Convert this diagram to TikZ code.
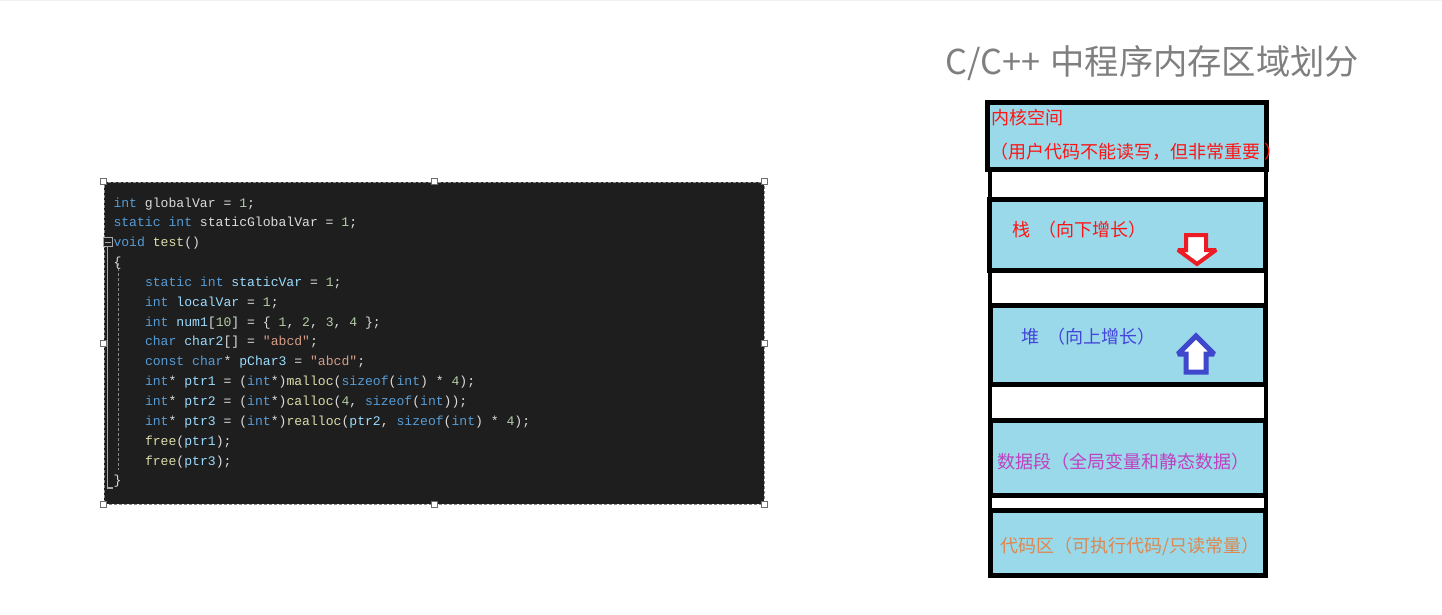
\documentclass[tikz,border=0pt]{standalone}
\usepackage{graphicx}
\usepackage{fontspec}
\newfontfamily\codefont{Liberation Mono}
\newfontfamily\cjk{Noto Sans CJK SC}
\definecolor{codebg}{HTML}{1E1E1E}
\definecolor{codetext}{HTML}{DCDCDC}
\definecolor{kwcol}{HTML}{569CD6}
\definecolor{varcol}{HTML}{9CDCFE}
\definecolor{fncol}{HTML}{DCDCAA}
\definecolor{numcol}{HTML}{B5CEA8}
\definecolor{strcol}{HTML}{D69D85}
\definecolor{memblue}{HTML}{99D9EA}
\definecolor{memred}{HTML}{FF1414}
\definecolor{arrred}{HTML}{ED1C24}
\definecolor{arrblue}{HTML}{3F48CC}
\definecolor{heaptext}{HTML}{4444DA}
\definecolor{datatext}{HTML}{C040C0}
\definecolor{codetxt}{HTML}{DC8850}
\definecolor{titlegray}{HTML}{7F7F7F}
\definecolor{dashgray}{HTML}{8A8A8A}
\definecolor{handlegray}{HTML}{6E6E6E}
\definecolor{foldgray}{HTML}{A8A8A8}
\newcommand\ckw[1]{\textcolor{kwcol}{#1}}
\newcommand\cvar[1]{\textcolor{varcol}{#1}}
\newcommand\cfn[1]{\textcolor{fncol}{#1}}
\newcommand\cnum[1]{\textcolor{numcol}{#1}}
\newcommand\cstr[1]{\textcolor{strcol}{#1}}
\tikzset{
  codeline/.style={anchor=base west, inner sep=0pt, outer sep=0pt,
    font=\codefont\fontsize{13.1}{15}\selectfont, text=codetext},
  handle/.style={draw=handlegray, fill=white, line width=0.8pt,
    minimum size=6pt, inner sep=0pt},
  membox/.style={draw=black, line width=5pt, fill=memblue, inner sep=0pt},
  memframe/.style={draw=black, line width=4pt, inner sep=0pt},
  memtext/.style={anchor=west, inner sep=0pt,
    font=\cjk\fontsize{18}{20}\selectfont},
}
\begin{document}
\begin{tikzpicture}[x=1pt,y=-1pt]
\useasboundingbox (0,0) rectangle (1442,615);
\fill[gray!12] (0,0) rectangle (1442,1.5);

% ---- code editor
\node[draw=dashgray, line width=1pt, dash pattern=on 3pt off 2pt, fill=codebg,
  minimum width=660pt, minimum height=322pt, inner sep=0pt] (codebox) at (434,343) {};
\foreach \a in {north west,north,north east,west,east,south west,south,south east}
  \node[handle] (h-\a) at (codebox.\a) {};

\node[draw=foldgray, fill=codebg, line width=1pt, minimum size=9pt, inner sep=0pt] (fold) at (107.5,242) {};
\draw[foldgray, line width=1pt] ([xshift=2pt]fold.west) -- ([xshift=-2pt]fold.east);
\coordinate (foldend) at (113,488);
\draw[foldgray, line width=1.5pt] (fold.south) |- (foldend);
\coordinate (dtop) at (118,263);
\coordinate (dbot) at (118,470);
\draw[dashgray, line width=1pt, dash pattern=on 3pt off 2pt] (dtop) -- (dbot);

\node[codeline] (l1) at (113.5,207) {\ckw{int} globalVar = \cnum{1};};
\node[codeline] (l2) at (113.5,226.85) {\ckw{static} \ckw{int} staticGlobalVar = \cnum{1};};
\node[codeline] (l3) at (113.5,246.7) {\ckw{void} \cfn{test}()};
\node[codeline] (l4) at (113.5,266.55) {\{};
\node[codeline] (l5) at (145,286.4) {\ckw{static} \ckw{int} \cvar{staticVar} = \cnum{1};};
\node[codeline] (l6) at (145,306.25) {\ckw{int} \cvar{localVar} = \cnum{1};};
\node[codeline] (l7) at (145,326.1) {\ckw{int} \cvar{num1}[\cnum{10}] = \{ \cnum{1}, \cnum{2}, \cnum{3}, \cnum{4} \};};
\node[codeline] (l8) at (145,345.95) {\ckw{char} \cvar{char2}[] = \cstr{"abcd"};};
\node[codeline] (l9) at (145,365.8) {\ckw{const} \ckw{char}* \cvar{pChar3} = \cstr{"abcd"};};
\node[codeline] (l10) at (145,385.65) {\ckw{int}* \cvar{ptr1} = (\ckw{int}*)\cfn{malloc}(\ckw{sizeof}(\ckw{int}) * \cnum{4});};
\node[codeline] (l11) at (145,405.5) {\ckw{int}* \cvar{ptr2} = (\ckw{int}*)\cfn{calloc}(\cnum{4}, \ckw{sizeof}(\ckw{int}));};
\node[codeline] (l12) at (145,425.35) {\ckw{int}* \cvar{ptr3} = (\ckw{int}*)\cfn{realloc}(\cvar{ptr2}, \ckw{sizeof}(\ckw{int}) * \cnum{4});};
\node[codeline] (l13) at (145,445.2) {\cfn{free}(\cvar{ptr1});};
\node[codeline] (l14) at (145,465.05) {\cfn{free}(\cvar{ptr3});};
\node[codeline] (l15) at (113.5,484.9) {\}};

% ---- title
\node[anchor=base west, inner sep=0pt, font=\cjk\fontsize{36}{40}\selectfont,
  text=titlegray] (title) at (945,75) {\resizebox{414pt}{!}{C/C++\hspace{0.3em}中程序内存区域划分}};

% ---- memory layout
\node[memframe, minimum width=276pt, minimum height=474pt] (frame) at (1128,339) {};
\node[membox, minimum width=279pt, minimum height=67pt] (kernel) at (1127,136) {};
\node[membox, minimum width=276pt, minimum height=71pt] (stack) at (1127.5,235) {};
\node[membox, minimum width=275pt, minimum height=79pt] (heap) at (1128,345) {};
\node[membox, minimum width=275pt, minimum height=75pt] (data) at (1128,458) {};
\node[membox, minimum width=275pt, minimum height=65pt] (code) at (1128,543) {};

\node[memtext, text=memred] (kt1) at (991,118) {内核空间};
\node[memtext, text=memred] (kt2) at (990,152) {（用户代码不能读写，但非常重要 ）};
\node[memtext, text=memred] (st) at (1012,230) {栈~~（向下增长）};
\node[memtext, text=heaptext] (ht) at (1021,337) {堆~~（向上增长）};
\node[memtext, text=datatext] (dt) at (997,462) {数据段（全局变量和静态数据）};
\node[memtext, text=codetxt] (ct) at (1000,546) {代码区（可执行代码/只读常量）};

\draw[line width=4pt, draw=arrred, fill=white, miter limit=2]
  (1186,235) -- (1206,235) -- (1206,250) -- (1216,250) -- (1197,264)
  -- (1178,250) -- (1186,250) -- cycle;
\draw[line width=5pt, draw=arrblue, fill=white, miter limit=2]
  (1196,336) -- (1214,354) -- (1206,354) -- (1206,372) -- (1186,372)
  -- (1186,354) -- (1178,354) -- cycle;
\end{tikzpicture}
\end{document}
